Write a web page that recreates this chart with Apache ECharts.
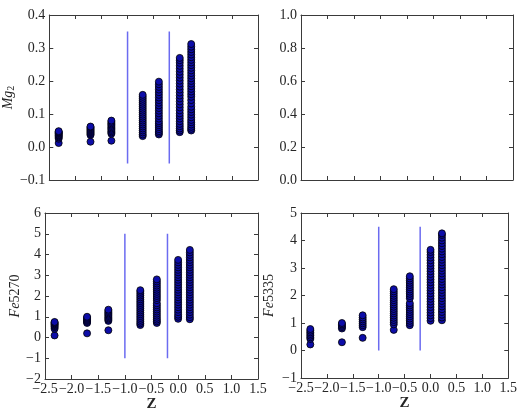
<!DOCTYPE html>
<html>
<head>
<meta charset="utf-8">
<script src="https://cdn.jsdelivr.net/npm/echarts@6/dist/echarts.min.js"></script>
<style>html,body{margin:0;padding:0;background:#fff;}#c{width:520px;height:415px;}</style>
</head>
<body>
<div id="c"></div>
<script>
// Metallicity (Z) of each model column
const zValues = [-2.32, -1.71, -1.31, -0.71, -0.40, 0.00, 0.22];
// Mg2 values per Z column
const mg2 = [
  [0.012, 0.025, 0.029, 0.032, 0.035, 0.037, 0.040, 0.042, 0.044, 0.046, 0.048],
  [0.016, 0.036, 0.039, 0.042, 0.045, 0.048, 0.051, 0.054, 0.057, 0.060, 0.062],
  [0.019, 0.040, 0.044, 0.048, 0.052, 0.056, 0.060, 0.064, 0.068, 0.072, 0.076, 0.080],
  [0.033, 0.038, 0.044, 0.050, 0.056, 0.062, 0.068, 0.074, 0.080, 0.086, 0.092, 0.098, 0.104, 0.110, 0.116, 0.122, 0.128, 0.134, 0.140, 0.146, 0.152, 0.158],
  [0.038, 0.043, 0.048, 0.054, 0.060, 0.066, 0.072, 0.078, 0.086, 0.094, 0.102, 0.110, 0.118, 0.126, 0.134, 0.142, 0.150, 0.158, 0.166, 0.174, 0.182, 0.190, 0.198],
  [0.045, 0.050, 0.056, 0.063, 0.070, 0.078, 0.086, 0.094, 0.102, 0.111, 0.120, 0.129, 0.138, 0.147, 0.156, 0.165, 0.174, 0.183, 0.192, 0.201, 0.210, 0.219, 0.228, 0.237, 0.246, 0.255, 0.263, 0.270],
  [0.050, 0.055, 0.061, 0.068, 0.075, 0.082, 0.090, 0.098, 0.106, 0.114, 0.122, 0.132, 0.142, 0.152, 0.160, 0.168, 0.176, 0.184, 0.192, 0.200, 0.208, 0.216, 0.224, 0.232, 0.240, 0.248, 0.256, 0.264, 0.272, 0.280, 0.288, 0.296, 0.304, 0.312]
];
// Fe5270 values per Z column
const fe5270 = [
  [0.10, 0.42, 0.50, 0.55, 0.60, 0.64, 0.68, 0.72, 0.75],
  [0.20, 0.70, 0.75, 0.80, 0.85, 0.90, 0.95, 1.00],
  [0.35, 0.80, 0.86, 0.92, 0.98, 1.04, 1.10, 1.16, 1.22, 1.28, 1.34],
  [0.60, 0.68, 0.76, 0.85, 0.94, 1.03, 1.12, 1.21, 1.30, 1.39, 1.48, 1.57, 1.66, 1.75, 1.84, 1.93, 2.02, 2.11, 2.20, 2.28],
  [0.70, 0.78, 0.86, 0.95, 1.05, 1.15, 1.25, 1.35, 1.45, 1.55, 1.65, 1.80, 1.90, 2.00, 2.10, 2.20, 2.30, 2.40, 2.50, 2.60, 2.70, 2.80],
  [0.90, 1.00, 1.10, 1.22, 1.34, 1.46, 1.58, 1.70, 1.82, 1.94, 2.06, 2.18, 2.30, 2.42, 2.54, 2.66, 2.78, 2.90, 3.02, 3.14, 3.26, 3.38, 3.50, 3.62, 3.74],
  [0.88, 0.98, 1.10, 1.22, 1.34, 1.46, 1.58, 1.70, 1.82, 1.94, 2.06, 2.18, 2.30, 2.42, 2.54, 2.66, 2.78, 2.90, 3.02, 3.14, 3.26, 3.38, 3.50, 3.62, 3.74, 3.86, 3.98, 4.10, 4.22]
];
// Fe5335 values per Z column
const fe5335 = [
  [0.22, 0.42, 0.48, 0.54, 0.60, 0.66, 0.72, 0.78],
  [0.30, 0.80, 0.85, 0.90, 0.95, 1.00],
  [0.46, 0.85, 0.92, 0.99, 1.06, 1.13, 1.20, 1.28],
  [0.75, 0.95, 1.03, 1.11, 1.19, 1.27, 1.35, 1.43, 1.51, 1.59, 1.67, 1.75, 1.83, 1.91, 1.99, 2.07, 2.15, 2.23],
  [0.92, 1.00, 1.08, 1.16, 1.24, 1.32, 1.40, 1.48, 1.56, 1.64, 1.72, 1.90, 1.98, 2.06, 2.14, 2.22, 2.30, 2.38, 2.46, 2.54, 2.62, 2.70],
  [1.08, 1.18, 1.28, 1.38, 1.48, 1.58, 1.68, 1.78, 1.88, 1.98, 2.08, 2.18, 2.28, 2.38, 2.48, 2.58, 2.68, 2.78, 2.88, 2.98, 3.08, 3.18, 3.28, 3.38, 3.48, 3.58, 3.66],
  [1.10, 1.20, 1.30, 1.40, 1.50, 1.60, 1.70, 1.80, 1.90, 2.00, 2.10, 2.20, 2.30, 2.40, 2.50, 2.60, 2.70, 2.80, 2.90, 3.00, 3.10, 3.20, 3.30, 3.40, 3.50, 3.60, 3.70, 3.80, 3.90, 4.00, 4.10, 4.20, 4.26]
];
// Vertical dividing lines (Z positions) and their vertical extents per panel
const cutZ = [-1.0, -0.2];
const mg2CutRange = [-0.05, 0.35];
const fe5270CutRange = [-1, 5];
const fe5335CutRange = [0, 4.5];
// Axis ranges
const xRange = [-2.5, 1.5, 0.5];
const mg2Axis = [-0.1, 0.4, 0.1];
const emptyAxis = [0.0, 1.0, 0.2];
const fe5270Axis = [-2, 6, 1];
const fe5335Axis = [-1, 5, 1];

const FONT = 'Liberation Serif';
const TXT = '#262626';
const LINE = '#3a3a3a';
const fmt = (d) => (v) => {
  let s = Math.abs(v) < 1e-9 ? (0).toFixed(d) : v.toFixed(d);
  return s.replace('-', '\u2212');
};

function pairs(cols) {
  const out = [];
  cols.forEach((col, i) => col.forEach(v => out.push([zValues[i], v])));
  return out;
}

const grids = [
  {left: 45, top: 15, width: 213, height: 165},
  {left: 301, top: 15, width: 212, height: 165},
  {left: 45, top: 213, width: 213, height: 166},
  {left: 301, top: 213, width: 212, height: 165}
];

const xAxes = [], yAxes = [];
function addAxes(gi, yr, showXLabels, yName) {
  const base = {gridIndex: gi, type: 'value', min: xRange[0], max: xRange[1], interval: xRange[2],
    splitLine: {show: false},
    axisLine: {show: true, onZero: false, lineStyle: {color: LINE, width: 1}},
    axisTick: {show: true, inside: true, length: 4, lineStyle: {color: LINE}}};
  xAxes.push(Object.assign({}, base, {position: 'bottom',
    axisLabel: {show: showXLabels, color: TXT, fontFamily: FONT, fontSize: 14, margin: 3, formatter: fmt(1)},
    name: showXLabels ? 'Z' : '', nameLocation: 'middle', nameGap: 12,
    nameTextStyle: {fontFamily: FONT, fontSize: 15, fontWeight: 'bold', color: TXT}}));
  xAxes.push(Object.assign({}, base, {position: 'top', axisLabel: {show: false}}));
  const ybase = {gridIndex: gi, type: 'value', min: yr[0], max: yr[1], interval: yr[2],
    splitLine: {show: false},
    axisLine: {show: true, onZero: false, lineStyle: {color: LINE, width: 1}},
    axisTick: {show: true, inside: true, length: 4, lineStyle: {color: LINE}}};
  const dec = yr[2] < 1 ? 1 : 0;
  yAxes.push(Object.assign({}, ybase, {position: 'left',
    axisLabel: {show: true, color: TXT, fontFamily: FONT, fontSize: 14, margin: 4, formatter: fmt(dec)},
    name: yName ? yName.text : '', nameLocation: 'middle', nameGap: yName ? yName.gap : 0,
    nameTextStyle: {color: TXT, fontFamily: FONT, fontSize: 14,
      rich: {
        i: {fontStyle: 'italic', fontFamily: FONT, fontSize: 14, color: TXT},
        n: {fontFamily: FONT, fontSize: 14, color: TXT},
        s: {fontFamily: FONT, fontSize: 10, color: TXT, padding: [6, 0, 0, 0]}
      }}}));
  yAxes.push(Object.assign({}, ybase, {position: 'right', axisLabel: {show: false}}));
}
addAxes(0, mg2Axis, false, {text: '{i|Mg}{s|2}', gap: 31});
addAxes(1, emptyAxis, false, null);
addAxes(2, fe5270Axis, true, {text: '{i|Fe}{n|5270}', gap: 23});
addAxes(3, fe5335Axis, true, {text: '{i|Fe}{n|5335}', gap: 25});

const series = [];
function addPanel(gi, cols, cutRange) {
  series.push({type: 'scatter', xAxisIndex: gi * 2, yAxisIndex: gi * 2, data: pairs(cols),
    symbol: 'circle', symbolSize: 7, silent: true,
    itemStyle: {color: '#0d0da8', borderColor: '#000', borderWidth: 0.8, opacity: 1}});
  cutZ.forEach(z => series.push({type: 'line', xAxisIndex: gi * 2, yAxisIndex: gi * 2,
    data: [[z, cutRange[0]], [z, cutRange[1]]], symbol: 'none', silent: true,
    lineStyle: {color: '#6b6bf0', width: 1.5}, z: 3}));
}
addPanel(0, mg2, mg2CutRange);
addPanel(2, fe5270, fe5270CutRange);
addPanel(3, fe5335, fe5335CutRange);

const chart = echarts.init(document.getElementById('c'), null, {renderer: 'canvas'});
chart.setOption({
  animation: false,
  backgroundColor: '#fff',
  grid: grids,
  xAxis: xAxes,
  yAxis: yAxes,
  series: series
});
</script>
</body>
</html>
